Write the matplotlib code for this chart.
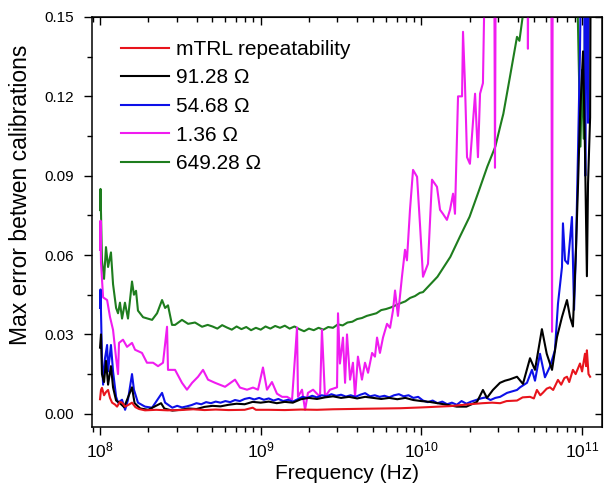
import numpy as np
import matplotlib
matplotlib.use('Agg')
from matplotlib import pyplot as plt
from matplotlib.ticker import MultipleLocator, LogLocator, NullFormatter

plt.rcParams['font.family'] = ['Liberation Sans', 'DejaVu Sans']
plt.rcParams['mathtext.fontset'] = 'custom'
plt.rcParams['mathtext.rm'] = 'Liberation Sans'

# frequency given as log10(Hz), error values
red_logf = [8.000, 8.006, 8.012, 8.025, 8.037, 8.050, 8.062, 8.075, 8.093, 8.106, 8.124, 8.137,
            8.156, 8.180, 8.199, 8.220, 8.243, 8.280, 8.35, 8.42, 8.50, 8.58, 8.65, 8.72, 8.80,
            8.90, 8.95, 8.97, 9.05, 9.15, 9.25, 9.35, 9.45, 9.65, 9.87, 10.00, 10.18, 10.30,
            10.38, 10.44, 10.49, 10.53, 10.595, 10.63, 10.676, 10.70, 10.719, 10.74, 10.757,
            10.78, 10.80, 10.82, 10.85, 10.87, 10.89, 10.906, 10.92, 10.943, 10.96, 10.987,
            11.00, 11.018, 11.025, 11.03, 11.04, 11.05]
red_err = [0.0055, 0.0090, 0.0098, 0.0070, 0.0082, 0.0090, 0.0060, 0.0042, 0.0035, 0.0027, 0.0045,
           0.0042, 0.0027, 0.0035, 0.0042, 0.0025, 0.0018, 0.0013, 0.0015, 0.0013, 0.0014, 0.0017,
           0.0014, 0.0016, 0.0014, 0.0015, 0.0023, 0.0015, 0.0015, 0.0014, 0.0016, 0.0015, 0.0017,
           0.0019, 0.0021, 0.0024, 0.0029, 0.0036, 0.0040, 0.0042, 0.0040, 0.0048, 0.0050, 0.0062,
           0.0064, 0.0058, 0.0090, 0.0070, 0.0080, 0.0095, 0.0100, 0.0090, 0.0128, 0.0110, 0.0135,
           0.0140, 0.0120, 0.0166, 0.0150, 0.0190, 0.0160, 0.0227, 0.0180, 0.0240, 0.0150, 0.0140]

black_logf = [8.000, 8.006, 8.012, 8.025, 8.037, 8.050, 8.068, 8.081, 8.100, 8.124, 8.150, 8.199,
              8.215, 8.25, 8.30, 8.38, 8.40, 8.45, 8.50, 8.55, 8.60, 8.65, 8.70, 8.75, 8.80, 8.85,
              8.90, 8.95, 9.00, 9.05, 9.10, 9.15, 9.20, 9.25, 9.30, 9.35, 9.40, 9.45, 9.50, 9.55,
              9.60, 9.65, 9.70, 9.75, 9.80, 9.85, 9.90, 9.95, 10.00, 10.05, 10.10, 10.16, 10.22,
              10.28, 10.32, 10.346, 10.383, 10.408, 10.445, 10.489, 10.52, 10.55, 10.595, 10.632,
              10.676, 10.707, 10.75, 10.78, 10.813, 10.844, 10.875, 10.906, 10.925, 10.943, 10.962,
              10.975, 10.987, 11.006, 11.018, 11.03, 11.037, 11.05, 11.055]
black_err = [0.025, 0.030, 0.015, 0.012, 0.020, 0.011, 0.018, 0.010, 0.005, 0.004, 0.0025, 0.010,
             0.004, 0.002, 0.0015, 0.004, 0.002, 0.0012, 0.0015, 0.0020, 0.0018, 0.0026, 0.0030,
             0.0028, 0.0034, 0.0038, 0.0036, 0.0045, 0.0042, 0.0046, 0.0040, 0.0045, 0.0042, 0.0055,
             0.0060, 0.0056, 0.0062, 0.0066, 0.0060, 0.0064, 0.0058, 0.0064, 0.0060, 0.0056, 0.0060,
             0.0055, 0.0060, 0.0052, 0.0048, 0.0045, 0.0040, 0.0034, 0.0027, 0.0027, 0.0038, 0.0045,
             0.0090, 0.0060, 0.0090, 0.0117, 0.0125, 0.0130, 0.0140, 0.0113, 0.0210, 0.0166, 0.0320,
             0.0227, 0.0166, 0.0290, 0.0366, 0.0430, 0.0366, 0.0330, 0.0620, 0.0870, 0.1120, 0.1370,
             0.1000, 0.0520, 0.0870, 0.1120, 0.2000]

blue_logf = [8.000, 8.003, 8.012, 8.019, 8.031, 8.044, 8.050, 8.068, 8.081, 8.100, 8.112, 8.137,
             8.156, 8.174, 8.199, 8.211, 8.236, 8.280, 8.324, 8.386, 8.405, 8.45, 8.48, 8.51, 8.54,
             8.57, 8.60, 8.63, 8.66, 8.69, 8.72, 8.75, 8.78, 8.81, 8.84, 8.87, 8.90, 8.93, 8.96,
             8.99, 9.02, 9.05, 9.08, 9.11, 9.14, 9.17, 9.20, 9.23, 9.26, 9.29, 9.32, 9.35, 9.38,
             9.41, 9.44, 9.47, 9.50, 9.53, 9.56, 9.59, 9.62, 9.65, 9.68, 9.71, 9.74, 9.77, 9.80,
             9.83, 9.86, 9.89, 9.92, 9.95, 9.98, 10.01, 10.04, 10.07, 10.10, 10.13, 10.16, 10.19,
             10.22, 10.25, 10.28, 10.31, 10.34, 10.37, 10.40, 10.43, 10.46, 10.49, 10.533, 10.595,
             10.614, 10.657, 10.688, 10.707, 10.738, 10.769, 10.80, 10.831, 10.85, 10.875, 10.881,
             10.894, 10.912, 10.937, 10.95, 10.962, 10.975, 10.987, 11.00, 11.01, 11.02, 11.03,
             11.037, 11.045, 11.05]
blue_err = [0.040, 0.047, 0.021, 0.011, 0.021, 0.026, 0.016, 0.026, 0.016, 0.0064, 0.0042, 0.0053,
            0.0015, 0.0053, 0.015, 0.0091, 0.0042, 0.0027, 0.0023, 0.0079, 0.0042, 0.0023, 0.0030,
            0.0024, 0.0028, 0.0033, 0.0040, 0.0036, 0.0044, 0.0040, 0.0046, 0.0042, 0.0048, 0.0044,
            0.0052, 0.0048, 0.0056, 0.0060, 0.0054, 0.0060, 0.0053, 0.0058, 0.0050, 0.0056, 0.0048,
            0.0053, 0.0046, 0.0055, 0.0064, 0.0060, 0.0068, 0.0062, 0.0070, 0.0066, 0.0074, 0.0068,
            0.0072, 0.0065, 0.0070, 0.0064, 0.0072, 0.0078, 0.0066, 0.0070, 0.0064, 0.0068, 0.0062,
            0.0070, 0.0074, 0.0066, 0.0070, 0.0060, 0.0064, 0.0050, 0.0044, 0.0050, 0.0040, 0.0046,
            0.0036, 0.0042, 0.0034, 0.0048, 0.0038, 0.0046, 0.0052, 0.0058, 0.0062, 0.0052, 0.0060,
            0.0064, 0.0079, 0.0090, 0.0100, 0.0117, 0.0166, 0.0125, 0.0227, 0.0138, 0.0178, 0.0240,
            0.0416, 0.0555, 0.0720, 0.0580, 0.0567, 0.0744, 0.0393, 0.0620, 0.1000, 0.1375, 0.2000,
            0.2000, 0.0900, 0.2000, 0.1100, 0.2000, 0.2000]

magenta_logf = [8.000, 8.003, 8.006, 8.019, 8.044, 8.062, 8.081, 8.100, 8.112, 8.118, 8.143, 8.168,
                8.199, 8.218, 8.261, 8.292, 8.330, 8.361, 8.392, 8.417, 8.423, 8.467, 8.510, 8.541,
                8.573, 8.610, 8.641, 8.672, 8.716, 8.778, 8.840, 8.871, 8.915, 8.952, 8.983, 9.014,
                9.039, 9.070, 9.101, 9.133, 9.164, 9.195, 9.226, 9.232, 9.257, 9.276, 9.294, 9.326,
                9.369, 9.381, 9.400, 9.431, 9.475, 9.481, 9.493, 9.512, 9.525, 9.537, 9.556, 9.574,
                9.587, 9.605, 9.630, 9.649, 9.668, 9.693, 9.711, 9.724, 9.742, 9.761, 9.786, 9.805,
                9.823, 9.836, 9.854, 9.879, 9.898, 9.910, 9.929, 9.948, 9.973, 9.991, 10.010, 10.041,
                10.066, 10.097, 10.116, 10.134, 10.159, 10.178, 10.197, 10.209, 10.228, 10.253,
                10.259, 10.271, 10.284, 10.302, 10.334, 10.352, 10.365, 10.383, 10.390, 10.420,
                10.452, 10.458, 10.464, 10.658, 10.663, 10.668, 10.808, 10.813, 10.818, 10.850]
magenta_err = [0.062, 0.073, 0.057, 0.044, 0.043, 0.0366, 0.0317, 0.021, 0.015, 0.0268, 0.028, 0.0253,
               0.0268, 0.0242, 0.023, 0.0193, 0.0193, 0.018, 0.0193, 0.0329, 0.0166, 0.0166, 0.0117,
               0.0091, 0.0117, 0.014, 0.0166, 0.0129, 0.0117, 0.0102, 0.0129, 0.0099, 0.0091, 0.0099,
               0.0091, 0.0175, 0.0091, 0.012, 0.0076, 0.0064, 0.0064, 0.0053, 0.0326, 0.0064, 0.0091,
               0.0015, 0.0079, 0.0091, 0.0064, 0.0318, 0.0064, 0.0091, 0.010, 0.038, 0.019, 0.0288,
               0.0117, 0.030, 0.0129, 0.0193, 0.0064, 0.0216, 0.0129, 0.0193, 0.0155, 0.023, 0.0216,
               0.0288, 0.023, 0.0288, 0.034, 0.0325, 0.039, 0.0466, 0.037, 0.0518, 0.062, 0.058,
               0.0771, 0.0922, 0.0896, 0.0718, 0.0518, 0.0567, 0.0885, 0.0858, 0.0771, 0.0756, 0.0733,
               0.0771, 0.0832, 0.0756, 0.120, 0.120, 0.1444, 0.125, 0.097, 0.0945, 0.121, 0.097, 0.121,
               0.125, 0.150, 0.200, 0.200, 0.093, 0.200, 0.200, 0.138, 0.200, 0.200, 0.031, 0.200, 0.200]

green_logf = [8.000, 8.003, 8.012, 8.025, 8.037, 8.050, 8.068, 8.081, 8.100, 8.112, 8.124, 8.137,
              8.155, 8.174, 8.199, 8.211, 8.224, 8.236, 8.268, 8.324, 8.355, 8.386, 8.405, 8.423,
              8.448, 8.467, 8.510, 8.548, 8.591, 8.635, 8.67, 8.70, 8.73, 8.76, 8.79, 8.82, 8.85,
              8.88, 8.91, 8.94, 8.97, 9.00, 9.03, 9.06, 9.09, 9.12, 9.15, 9.18, 9.21, 9.24, 9.27,
              9.30, 9.33, 9.36, 9.39, 9.42, 9.45, 9.48, 9.51, 9.54, 9.57, 9.60, 9.63, 9.66, 9.69,
              9.72, 9.75, 9.78, 9.81, 9.84, 9.87, 9.90, 9.93, 9.96, 9.99, 10.01, 10.10, 10.18, 10.24,
              10.30, 10.36, 10.41, 10.46, 10.50, 10.51, 10.55, 10.595, 10.61, 10.63, 10.66, 10.75,
              10.95, 10.97, 10.99, 11.00, 11.01, 11.02, 11.04]
green_err = [0.077, 0.085, 0.058, 0.051, 0.063, 0.0555, 0.061, 0.049, 0.040, 0.038, 0.042, 0.036,
             0.042, 0.036, 0.050, 0.045, 0.0465, 0.039, 0.0365, 0.0355, 0.038, 0.043, 0.040, 0.041,
             0.0336, 0.0336, 0.0355, 0.034, 0.0345, 0.0329, 0.0336, 0.0330, 0.0322, 0.0335, 0.0326,
             0.0318, 0.0330, 0.0320, 0.0328, 0.0316, 0.0325, 0.0318, 0.0330, 0.0322, 0.0332, 0.0325,
             0.0333, 0.0322, 0.0330, 0.0320, 0.0312, 0.0322, 0.0316, 0.0325, 0.0318, 0.0328, 0.0325,
             0.0338, 0.0334, 0.0345, 0.0348, 0.0358, 0.0362, 0.0370, 0.0375, 0.0380, 0.0392, 0.0396,
             0.0402, 0.0410, 0.0418, 0.0425, 0.0438, 0.0445, 0.0457, 0.046, 0.0518, 0.0593, 0.067,
             0.0745, 0.0847, 0.0934, 0.101, 0.111, 0.1134, 0.127, 0.1425, 0.141, 0.150, 0.165,
             0.200, 0.250, 0.160, 0.101, 0.130, 0.104, 0.160, 0.220]

series = [
    (red_logf, red_err, '#e8141c', 'mTRL repeatability'),
    (black_logf, black_err, '#000000', '91.28 \u03a9'),
    (blue_logf, blue_err, '#0d10e8', '54.68 \u03a9'),
    (magenta_logf, magenta_err, '#f01cf0', '1.36 \u03a9'),
    (green_logf, green_err, '#1e7d1e', '649.28 \u03a9'),
]

fig = plt.figure(figsize=(6.04, 4.87), dpi=100)
ax = fig.add_axes([92 / 604, 60 / 487, 510 / 604, 410 / 487])

# draw green/magenta first so the low curves sit on top, legend order kept separately
handles = {}
for logf, err, color, label in series[::-1]:
    line, = ax.plot(10 ** np.array(logf), err, color=color, lw=1.5, label=label)
    handles[label] = line

ax.set_xscale('log')
ax.set_xlim(10 ** 7.95, 10 ** 11.124)
ax.set_ylim(-0.005, 0.15)

ax.yaxis.set_major_locator(MultipleLocator(0.03))
ax.yaxis.set_minor_locator(MultipleLocator(0.015))
ax.yaxis.set_major_formatter(plt.FormatStrFormatter('%.2f'))
ax.xaxis.set_major_locator(LogLocator(base=10))
ax.xaxis.set_minor_locator(LogLocator(base=10, subs=np.arange(2, 10)))
ax.xaxis.set_minor_formatter(NullFormatter())

ax.tick_params(which='major', direction='out', length=6, width=1, pad=4)
ax.tick_params(which='minor', direction='out', length=3.5, width=1)
ax.tick_params(axis='y', which='major', labelsize=11, pad=7)
ax.tick_params(axis='x', which='major', labelsize=12.5, pad=4)
for s in ax.spines.values():
    s.set_linewidth(1.1)

top = ax.secondary_xaxis('top')
top.xaxis.set_major_locator(LogLocator(base=10))
top.xaxis.set_minor_locator(LogLocator(base=10, subs=np.arange(2, 10)))
top.tick_params(which='major', direction='in', length=6, width=1, labeltop=False)
top.tick_params(which='minor', direction='in', length=3.5, width=1)
top.xaxis.set_major_formatter(NullFormatter())
top.xaxis.set_minor_formatter(NullFormatter())

right = ax.secondary_yaxis('right')
right.yaxis.set_major_locator(MultipleLocator(0.015))
right.tick_params(which='major', direction='in', length=5, width=1, labelright=False)
right.yaxis.set_major_formatter(NullFormatter())

ax.set_xlabel('Frequency (Hz)', fontsize=15, labelpad=2)
ax.set_ylabel('Max error betwen calibrations', fontsize=16.5)
ax.yaxis.set_label_coords(-0.118, 0.566)

order = [s[3] for s in series]
ax.legend([handles[k] for k in order], order, loc='upper left', bbox_to_anchor=(0.02, 0.99),
          frameon=False, fontsize=15, handlelength=2.3, handletextpad=0.35, labelspacing=0.46)

fig.savefig('out.png', dpi=100)
